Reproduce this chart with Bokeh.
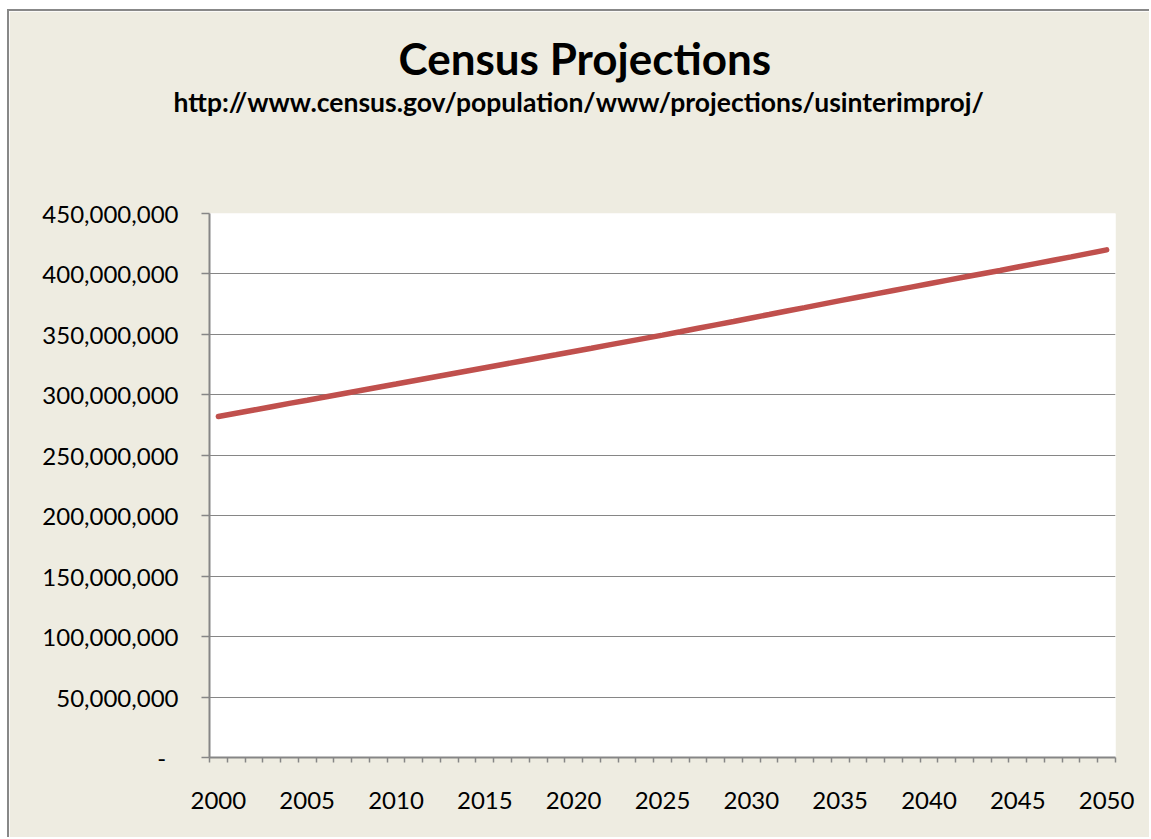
from bokeh.plotting import figure
from bokeh.models import Range1d, FixedTicker, NumeralTickFormatter, Title
from bokeh.embed import file_html
from bokeh.resources import INLINE

years = list(range(2000, 2051))
population = [
    282.1, 284.8, 287.5, 290.2, 292.9, 295.5, 298.2, 300.9, 303.6, 306.3,
    308.9, 311.6, 314.3, 317.0, 319.7, 322.4, 325.1, 327.8, 330.5, 333.1,
    335.8, 338.5, 341.3, 344.0, 346.7, 349.4, 352.2, 355.1, 357.9, 360.7,
    363.6, 366.4, 369.3, 372.1, 375.0, 377.9, 380.7, 383.5, 386.3, 389.1,
    391.9, 394.7, 397.5, 400.2, 402.9, 405.7, 408.5, 411.3, 414.1, 417.0,
    419.9,
]
population = [v * 1e6 for v in population]
x_label_years = list(range(2000, 2051, 5))
y_ticks = [i * 50_000_000 for i in range(10)]

title_text = "Census Projections"
subtitle_text = "http://www.census.gov/population/www/projections/usinterimproj/"

BG = "#EEECE1"
GRID = "#868686"
RED = "#C0504D"
FONT = "Lato"

W, H = 1142, 828
FRAME_LEFT, FRAME_BOTTOM = 200, 746
p = figure(
    width=W, height=H,
    output_backend="svg", toolbar_location=None,
    x_range=Range1d(1999.5, 2050.5), y_range=Range1d(0, 450_000_000),
    min_border_left=FRAME_LEFT, min_border_top=202, min_border_right=36,
    min_border_bottom=H - FRAME_BOTTOM,
    background_fill_color="white", border_fill_color=BG,
    outline_line_color=None,
    margin=(9, 0, 0, 7),
    styles={"border-left": "2px solid #888888", "border-top": "2px solid #888888"},
)

p.line(years, population, line_color=RED, line_width=5.5, line_cap="round")

# X axis
xa = p.xaxis[0]
xa.ticker = FixedTicker(ticks=x_label_years, minor_ticks=[y - 0.5 for y in range(2000, 2052)])
xa.major_tick_out = 0
xa.major_tick_in = 0
xa.minor_tick_out = 5
xa.minor_tick_in = 0
xa.minor_tick_line_color = GRID
xa.minor_tick_line_width = 1.5
xa.axis_line_color = GRID
xa.axis_line_width = 2
xa.major_label_text_font = FONT
xa.major_label_text_font_size = "24px"
xa.major_label_text_color = "black"
xa.major_label_standoff = 29

# Y axis
ya = p.yaxis[0]
ya.ticker = FixedTicker(ticks=y_ticks, minor_ticks=[])
ya.formatter = NumeralTickFormatter(format="0,0")
ya.major_label_overrides = {0: "-\u00a0\u00a0"}
ya.major_tick_out = 8
ya.major_tick_in = 0
ya.major_tick_line_color = GRID
ya.major_tick_line_width = 1.5
ya.minor_tick_out = 0
ya.minor_tick_in = 0
ya.axis_line_color = GRID
ya.axis_line_width = 2
ya.major_label_text_font = FONT
ya.major_label_text_font_size = "24px"
ya.major_label_text_color = "black"
ya.major_label_standoff = 23

p.xgrid.grid_line_color = None
p.ygrid.grid_line_color = GRID
p.ygrid.grid_line_width = 1.2

# spacer between the plot area and the subtitle
spacer = Title(text="\u00a0", standoff=93, text_font=FONT, text_font_size="1px",
               text_color=BG)
sub = Title(text=subtitle_text, align="left", offset=-36, standoff=0,
            text_font=FONT, text_font_style="bold", text_font_size="26.5px",
            text_color="black")
main = Title(text=title_text, align="left", offset=189, standoff=0,
             text_font=FONT, text_font_style="bold", text_font_size="44px",
             text_color="black")
p.add_layout(spacer, "above")
p.add_layout(sub, "above")
p.add_layout(main, "above")

open("out.html", "w").write(file_html(p, INLINE))
